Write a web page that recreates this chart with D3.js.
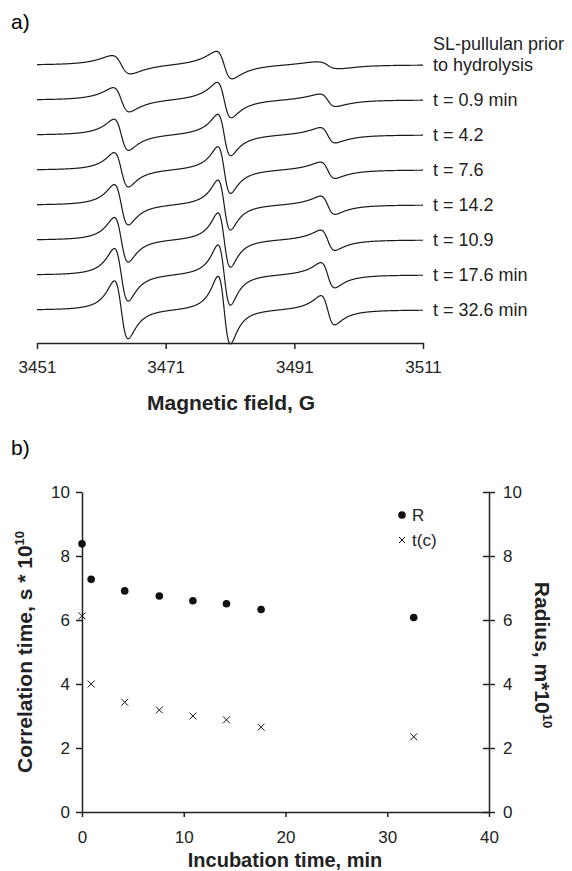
<!DOCTYPE html>
<html>
<head>
<meta charset="utf-8">
<script src="https://cdn.jsdelivr.net/npm/d3@7"></script>
<style>
  body { margin: 0; background: #fff; }
  svg { font-family: "Liberation Sans", Arial, sans-serif; }
</style>
</head>
<body>
<div id="container"></div>
<script>
// ---- panel a data: EPR spectra ----
const traceLabels = [
  ['SL-pullulan prior', 'to hydrolysis'],
  ['t = 0.9 min'], ['t = 4.2'], ['t = 7.6'], ['t = 14.2'],
  ['t = 10.9'], ['t = 17.6 min'], ['t = 32.6 min']
]
const fieldTicks = [3451, 3471, 3491, 3511]
const lineCenters = [3464.1, 3480.1, 3496.2]          // G
// sharp component: peak-to-peak heights (arb. units) of low, central, high field lines
const ppLow  = [11, 18, 26, 30, 36, 41, 49, 55]
const ppMid  = [20, 29, 36, 42, 46, 51, 57, 65]
const ppHigh = [2, 8, 11, 12, 14, 16, 21, 25]
// broad component heights
const brLow  = [9, 8, 7, 6, 6, 5, 5, 4]
const brMid  = [10, 9, 8, 7, 6, 5, 5, 4]
const brHigh = [6, 6, 6, 6, 6, 6, 6, 6]
// peak-to-peak widths, G
const wLow  = [2.3, 2.2, 2.1, 2.1, 2.1, 2.1, 2.1, 2.1]
const wMid  = [2.1, 2.0, 1.9, 1.9, 1.9, 1.9, 1.9, 1.9]
const wHigh = [1.6, 2.0, 2.0, 2.0, 2.0, 2.0, 2.0, 2.0]
const wBroad = 4.5
const traceStep = 35

// ---- panel b data ----
const incTime = [0, 0.9, 4.2, 7.6, 10.9, 14.2, 17.6, 32.6]
const radius = [8.38, 7.27, 6.91, 6.75, 6.60, 6.51, 6.33, 6.08]
const corrTime = [6.13, 4.0, 3.43, 3.19, 3.0, 2.88, 2.65, 2.35]
const bTicks = [0, 2, 4, 6, 8, 10]
const tTicks = [0, 10, 20, 30, 40]

const w = 572
const h = 871

const svg = d3.select("#container")
  .append("svg")
  .attr("width", w)
  .attr("height", h)

// ===== panel a =====
const xField = d3.scaleLinear().domain([3451, 3511]).range([37, 423])
const yInt = d3.scaleLinear().domain([-40, 290]).range([350, 20])

svg.append("text").attr("x", 11).attr("y", 29)
  .attr("font-size", 21).text("a)")

// first derivative lorentzian, peak-to-peak height pp and width wpp
const dLor = (d, pp, wpp) => {
  let g = wpp * Math.sqrt(3) / 2
  let u = d / g
  return -(pp / 1.299) * 2 * u / Math.pow(1 + u * u, 2)
}

const spectrum = (i) => {
  let pars = [
    [ppLow[i], wLow[i], brLow[i]],
    [ppMid[i], wMid[i], brMid[i]],
    [ppHigh[i], wHigh[i], brHigh[i]]
  ]
  let pts = []
  for (let b = 3451; b <= 3511.001; b += 0.05) {
    let v = 0
    pars.forEach((p, k) => {
      let d = b - lineCenters[k]
      v += dLor(d, p[0], p[1]) + dLor(d, p[2], wBroad)
    })
    pts.push([b, v])
  }
  return pts
}

const line = d3.line()
const traces = svg.append("g")
traceLabels.forEach((lab, i) => {
  let off = (traceLabels.length - 1 - i) * traceStep
  let pts = spectrum(i)
  traces.append("path")
    .attr("d", line(pts.map(p => [xField(p[0]), yInt(off + p[1])])))
    .attr("fill", "none")
    .attr("stroke", "#1a1a1a")
    .attr("stroke-width", 1.2)
  let yb = yInt(off)
  lab.slice().reverse().forEach((txt, j) => {
    svg.append("text")
      .attr("x", 433)
      .attr("y", yb - j * 21)
      .attr("dy", "0.35em")
      .attr("font-size", 18)
      .attr("fill", "#222")
      .text(txt)
  })
})

const axA = svg.append("g").attr("transform", "translate(0,343)")
  .call(d3.axisBottom(xField).tickValues(fieldTicks).tickFormat(d3.format("d"))
    .tickSize(6).tickSizeOuter(0).tickPadding(12))
axA.select(".domain").attr("stroke", "#222").attr("stroke-width", 1.5)
axA.selectAll(".tick line").attr("stroke", "#222").attr("stroke-width", 1.5)
axA.selectAll(".tick text").attr("font-size", 17).attr("fill", "#222")
  .attr("font-family", "Liberation Sans, Arial, sans-serif")

svg.append("text").attr("x", 231).attr("y", 410)
  .attr("text-anchor", "middle").attr("font-size", 21).attr("font-weight", "bold")
  .attr("fill", "#222").text("Magnetic field, G")

// ===== panel b =====
const xT = d3.scaleLinear().domain([0, 40]).range([82, 489])
const yB = d3.scaleLinear().domain([0, 10]).range([812, 492])

svg.append("text").attr("x", 11).attr("y", 455)
  .attr("font-size", 21).text("b)")

const fontAx = (g) => {
  g.select(".domain").attr("stroke", "#222").attr("stroke-width", 1.5)
  g.selectAll(".tick line").attr("stroke", "#222").attr("stroke-width", 1.5)
  g.selectAll(".tick text").attr("font-size", 17).attr("fill", "#222")
    .attr("font-family", "Liberation Sans, Arial, sans-serif")
}

const axX = svg.append("g").attr("transform", "translate(0,812)")
  .call(d3.axisBottom(xT).tickValues(tTicks).tickSize(5).tickSizeOuter(0).tickPadding(14))
fontAx(axX)

const axL = svg.append("g").attr("transform", "translate(82,0)")
  .call(d3.axisLeft(yB).tickValues(bTicks).tickSize(6).tickSizeOuter(0).tickPadding(6))
fontAx(axL)

const axR = svg.append("g").attr("transform", "translate(489,0)")
  .call(d3.axisRight(yB).tickValues(bTicks).tickSize(6).tickSizeOuter(0).tickPadding(8))
fontAx(axR)
axR.selectAll(".tick line").attr("x1", -6)

// axis titles
const yl = svg.append("text")
  .attr("transform", "translate(32,652) rotate(-90)")
  .attr("text-anchor", "middle").attr("font-size", 21).attr("font-weight", "bold")
  .attr("fill", "#222")
yl.append("tspan").text("Correlation time, s * 10")
yl.append("tspan").attr("font-size", 13).attr("dy", -8).text("10")

const yr = svg.append("text")
  .attr("transform", "translate(535,655) rotate(90)")
  .attr("text-anchor", "middle").attr("font-size", 21).attr("font-weight", "bold")
  .attr("fill", "#222")
yr.append("tspan").text("Radius, m*10")
yr.append("tspan").attr("font-size", 13).attr("dy", -8).text("10")

svg.append("text").attr("x", 285).attr("y", 867)
  .attr("text-anchor", "middle").attr("font-size", 20).attr("font-weight", "bold")
  .attr("fill", "#222").text("Incubation time, min")

// points
svg.append("g").selectAll("circle")
  .data(incTime)
  .enter()
  .append("circle")
  .attr("cx", (d) => xT(d))
  .attr("cy", (d, i) => yB(radius[i]))
  .attr("r", 3.8)
  .attr("fill", "#111")

const cross = (cx, cy, s) => `M${cx - s},${cy - s}L${cx + s},${cy + s}M${cx - s},${cy + s}L${cx + s},${cy - s}`

svg.append("g").selectAll("path")
  .data(incTime)
  .enter()
  .append("path")
  .attr("d", (d, i) => cross(xT(d), yB(corrTime[i]), 3.5))
  .attr("stroke", "#111")
  .attr("stroke-width", 1)
  .attr("fill", "none")

// legend
svg.append("circle").attr("cx", 402).attr("cy", 515).attr("r", 3.8).attr("fill", "#111")
svg.append("text").attr("x", 412).attr("y", 515).attr("dy", "0.35em")
  .attr("font-size", 17).attr("fill", "#222").text("R")
svg.append("path").attr("d", cross(402, 540, 3)).attr("stroke", "#111").attr("stroke-width", 1)
svg.append("text").attr("x", 412).attr("y", 540).attr("dy", "0.35em")
  .attr("font-size", 17).attr("fill", "#222").text("t(c)")
</script>
</body>
</html>
